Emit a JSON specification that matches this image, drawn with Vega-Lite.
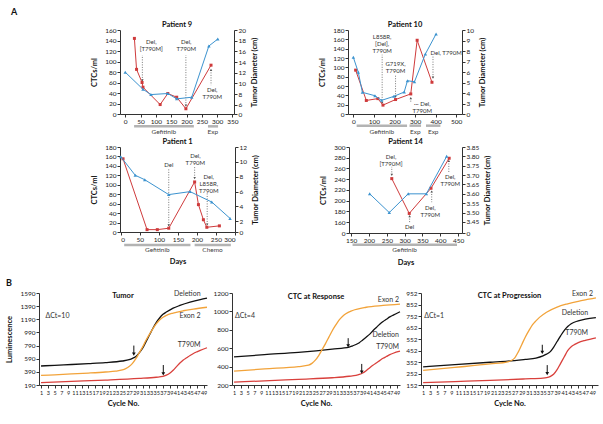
{
"$schema": "https://vega.github.io/schema/vega-lite/v6.json",
"padding": {"left": 5, "top": 7, "right": 0, "bottom": 0},
"config": {
  "font": "Lato",
  "view": {"stroke": null},
  "axis": {"labelFont": "Lato", "labelFontSize": 6.5, "titleFont": "Lato", "titleFontSize": 7.5, "titleFontWeight": "bold", "tickSize": 3, "domainColor": "#333", "tickColor": "#333", "labelColor": "#222", "titleColor": "#111", "grid": false, "labelPadding": 1, "titlePadding": 3},
  "axisLeft": {"titlePadding": 6},
  "axisRight": {"titleAngle": 270, "titleBaseline": "top", "titlePadding": 5},
  "title": {"font": "Lato", "fontSize": 7.5, "fontWeight": "bold", "offset": 0, "dy": 5, "color": "#111"},
  "text": {"font": "Lato"}
},
"datasets": {
  "pa": [
    {"p":"P9","s":"c","d":30,"v":144},{"p":"P9","s":"c","d":37,"v":85},{"p":"P9","s":"c","d":55,"v":60},{"p":"P9","s":"c","d":58,"v":51},{"p":"P9","s":"c","d":114,"v":18},{"p":"P9","s":"c","d":139,"v":39},{"p":"P9","s":"c","d":168,"v":32},{"p":"P9","s":"c","d":198,"v":10},{"p":"P9","s":"c","d":280,"v":93},
    {"p":"P9","s":"t","d":0,"v":12.1},{"p":"P9","s":"t","d":58,"v":8.9},{"p":"P9","s":"t","d":84,"v":7.9},{"p":"P9","s":"t","d":139,"v":8.1},{"p":"P9","s":"t","d":168,"v":7.1},{"p":"P9","s":"t","d":217,"v":7.4},{"p":"P9","s":"t","d":273,"v":17.0},{"p":"P9","s":"t","d":302,"v":18.3},
    {"p":"P10","s":"c","d":11,"v":94},{"p":"P10","s":"c","d":63,"v":29},{"p":"P10","s":"c","d":119,"v":33},{"p":"P10","s":"c","d":144,"v":19},{"p":"P10","s":"c","d":205,"v":31},{"p":"P10","s":"c","d":279,"v":43},{"p":"P10","s":"c","d":310,"v":158},{"p":"P10","s":"c","d":382,"v":68},
    {"p":"P10","s":"t","d":0,"v":7.41},{"p":"P10","s":"t","d":24,"v":6.0},{"p":"P10","s":"t","d":44,"v":4.1},{"p":"P10","s":"t","d":105,"v":3.78},{"p":"P10","s":"t","d":137,"v":3.34},{"p":"P10","s":"t","d":197,"v":3.72},{"p":"P10","s":"t","d":247,"v":4.13},{"p":"P10","s":"t","d":263,"v":5.2},{"p":"P10","s":"t","d":297,"v":5.1},{"p":"P10","s":"t","d":350,"v":7.73},{"p":"P10","s":"t","d":402,"v":9.62},
    {"p":"P1","s":"c","d":6,"v":155},{"p":"P1","s":"c","d":69,"v":5},{"p":"P1","s":"c","d":96,"v":5},{"p":"P1","s":"c","d":126,"v":8},{"p":"P1","s":"c","d":194,"v":106},{"p":"P1","s":"c","d":204,"v":58},{"p":"P1","s":"c","d":217,"v":26},{"p":"P1","s":"c","d":226,"v":10},{"p":"P1","s":"c","d":259,"v":13},
    {"p":"P1","s":"t","d":0,"v":10.7},{"p":"P1","s":"t","d":38,"v":8.2},{"p":"P1","s":"t","d":63,"v":7.6},{"p":"P1","s":"t","d":126,"v":5.6},{"p":"P1","s":"t","d":182,"v":6.0},{"p":"P1","s":"t","d":239,"v":4.6},{"p":"P1","s":"t","d":287,"v":2.4},
    {"p":"P14","s":"c","d":264,"v":241},{"p":"P14","s":"c","d":313,"v":176},{"p":"P14","s":"c","d":374,"v":223},{"p":"P14","s":"c","d":425,"v":279},
    {"p":"P14","s":"t","d":202,"v":3.60},{"p":"P14","s":"t","d":257,"v":3.50},{"p":"P14","s":"t","d":310,"v":3.60},{"p":"P14","s":"t","d":361,"v":3.60},{"p":"P14","s":"t","d":418,"v":3.80}
  ],
  "ann": [
    {"p":"P9","d":85,"v":143,"t":"Del,\n[T790M]"},{"p":"P9","d":199,"v":143,"t":"Del,\nT790M"},{"p":"P9","d":284,"v":52,"t":"Del,\nT790M"},
    {"p":"P10","d":140,"v":172,"t":"L858R,\n[Del],\nT790M"},{"p":"P10","d":205,"v":114,"t":"G719X,\nT790M"},{"p":"P10","d":451,"v":138,"t":"Del, T790M"},{"p":"P10","d":335,"v":28,"t":"··· Del,\nT790M"},
    {"p":"P1","d":126,"v":149,"t":"Del"},{"p":"P1","d":196,"v":168,"t":"Del,\nT790M"},{"p":"P1","d":231,"v":122,"t":"Del,\nL858R,\nT790M"},
    {"p":"P14","d":262,"v":287,"t":"Del,\n[T790M]"},{"p":"P14","d":314,"v":156,"t":"Del"},{"p":"P14","d":428,"v":249,"t":"Del,\nT790M"},{"p":"P14","d":372,"v":191,"t":"Del,\nT790M"}
  ],
  "arr": [
    {"p":"P9","d":56,"v":64,"v2":112,"dir":"down"},{"p":"P9","d":198,"v":16,"v2":112,"dir":"down"},{"p":"P9","d":280,"v":84,"v2":55,"dir":"up"},
    {"p":"P10","d":140,"v":24,"v2":127,"dir":"down"},{"p":"P10","d":205,"v":37,"v2":84,"dir":"down"},{"p":"P10","d":387,"v":78,"v2":123,"dir":"down"},{"p":"P10","d":279,"v":34,"v2":24,"dir":"up"},
    {"p":"P1","d":126,"v":14,"v2":133,"dir":"down"},{"p":"P1","d":194,"v":114,"v2":138,"dir":"down"},{"p":"P1","d":227,"v":16,"v2":84,"dir":"down"},
    {"p":"P14","d":264,"v":248,"v2":263,"dir":"down"},{"p":"P14","d":314,"v":171,"v2":159,"dir":"up"},{"p":"P14","d":424,"v":274,"v2":252,"dir":"up"},{"p":"P14","d":376,"v":217,"v2":197,"dir":"up"}
  ],
  "tx": [
    {"p":"P9","d":29,"d2":224},{"p":"P9","d":270,"d2":303},
    {"p":"P10","d":16,"d2":261},{"p":"P10","d":273,"d2":329},{"p":"P10","d":353,"d2":423},
    {"p":"P1","d":9,"d2":183},{"p":"P1","d":194,"d2":289},
    {"p":"P14","d":154,"d2":447}
  ],
  "txl": [
    {"p":"P9","d":126,"t":"Gefitinib"},{"p":"P9","d":286,"t":"Exp"},
    {"p":"P10","d":138,"t":"Gefitinib"},{"p":"P10","d":301,"t":"Exp"},{"p":"P10","d":388,"t":"Exp"},
    {"p":"P1","d":96,"t":"Gefitinib"},{"p":"P1","d":241,"t":"Chemo"},
    {"p":"P14","d":300,"t":"Gefitinib"}
  ],
  "b": [
    {"panel":"T","s":"del","c":1,"v":479},{"panel":"T","s":"del","c":5,"v":490},{"panel":"T","s":"del","c":10,"v":502},{"panel":"T","s":"del","c":15,"v":515},{"panel":"T","s":"del","c":20,"v":530},{"panel":"T","s":"del","c":25,"v":555},{"panel":"T","s":"del","c":27,"v":575},{"panel":"T","s":"del","c":28,"v":595},{"panel":"T","s":"del","c":29,"v":625},{"panel":"T","s":"del","c":30,"v":680},{"panel":"T","s":"del","c":31,"v":750},{"panel":"T","s":"del","c":32,"v":850},{"panel":"T","s":"del","c":33,"v":950},{"panel":"T","s":"del","c":34,"v":1050},{"panel":"T","s":"del","c":35,"v":1140},{"panel":"T","s":"del","c":36,"v":1210},{"panel":"T","s":"del","c":37,"v":1265},{"panel":"T","s":"del","c":38,"v":1300},{"panel":"T","s":"del","c":40,"v":1360},{"panel":"T","s":"del","c":42,"v":1400},{"panel":"T","s":"del","c":45,"v":1450},{"panel":"T","s":"del","c":48,"v":1490},{"panel":"T","s":"del","c":50,"v":1512},
    {"panel":"T","s":"ex","c":1,"v":335},{"panel":"T","s":"ex","c":5,"v":345},{"panel":"T","s":"ex","c":10,"v":358},{"panel":"T","s":"ex","c":15,"v":372},{"panel":"T","s":"ex","c":20,"v":388},{"panel":"T","s":"ex","c":23,"v":400},{"panel":"T","s":"ex","c":25,"v":420},{"panel":"T","s":"ex","c":26,"v":440},{"panel":"T","s":"ex","c":27,"v":470},{"panel":"T","s":"ex","c":28,"v":520},{"panel":"T","s":"ex","c":29,"v":590},{"panel":"T","s":"ex","c":30,"v":680},{"panel":"T","s":"ex","c":31,"v":770},{"panel":"T","s":"ex","c":32,"v":870},{"panel":"T","s":"ex","c":33,"v":960},{"panel":"T","s":"ex","c":34,"v":1045},{"panel":"T","s":"ex","c":35,"v":1120},{"panel":"T","s":"ex","c":36,"v":1180},{"panel":"T","s":"ex","c":37,"v":1220},{"panel":"T","s":"ex","c":38,"v":1250},{"panel":"T","s":"ex","c":40,"v":1285},{"panel":"T","s":"ex","c":43,"v":1320},{"panel":"T","s":"ex","c":46,"v":1345},{"panel":"T","s":"ex","c":50,"v":1373},
    {"panel":"T","s":"t790","c":1,"v":226},{"panel":"T","s":"t790","c":10,"v":245},{"panel":"T","s":"t790","c":20,"v":265},{"panel":"T","s":"t790","c":30,"v":290},{"panel":"T","s":"t790","c":35,"v":308},{"panel":"T","s":"t790","c":37,"v":320},{"panel":"T","s":"t790","c":38,"v":340},{"panel":"T","s":"t790","c":39,"v":370},{"panel":"T","s":"t790","c":40,"v":415},{"panel":"T","s":"t790","c":41,"v":470},{"panel":"T","s":"t790","c":42,"v":525},{"panel":"T","s":"t790","c":43,"v":570},{"panel":"T","s":"t790","c":44,"v":605},{"panel":"T","s":"t790","c":45,"v":640},{"panel":"T","s":"t790","c":46,"v":670},{"panel":"T","s":"t790","c":47,"v":695},{"panel":"T","s":"t790","c":48,"v":718},{"panel":"T","s":"t790","c":50,"v":757},
    {"panel":"R","s":"del","c":1,"v":505},{"panel":"R","s":"del","c":10,"v":530},{"panel":"R","s":"del","c":20,"v":555},{"panel":"R","s":"del","c":30,"v":590},{"panel":"R","s":"del","c":35,"v":612},{"panel":"R","s":"del","c":36,"v":625},{"panel":"R","s":"del","c":37,"v":640},{"panel":"R","s":"del","c":38,"v":660},{"panel":"R","s":"del","c":39,"v":690},{"panel":"R","s":"del","c":40,"v":720},{"panel":"R","s":"del","c":41,"v":750},{"panel":"R","s":"del","c":42,"v":790},{"panel":"R","s":"del","c":43,"v":825},{"panel":"R","s":"del","c":44,"v":860},{"panel":"R","s":"del","c":45,"v":890},{"panel":"R","s":"del","c":46,"v":915},{"panel":"R","s":"del","c":47,"v":940},{"panel":"R","s":"del","c":48,"v":960},{"panel":"R","s":"del","c":50,"v":996},
    {"panel":"R","s":"ex","c":1,"v":350},{"panel":"R","s":"ex","c":10,"v":375},{"panel":"R","s":"ex","c":20,"v":400},{"panel":"R","s":"ex","c":23,"v":415},{"panel":"R","s":"ex","c":24,"v":435},{"panel":"R","s":"ex","c":25,"v":470},{"panel":"R","s":"ex","c":26,"v":520},{"panel":"R","s":"ex","c":27,"v":585},{"panel":"R","s":"ex","c":28,"v":650},{"panel":"R","s":"ex","c":29,"v":720},{"panel":"R","s":"ex","c":30,"v":790},{"panel":"R","s":"ex","c":31,"v":850},{"panel":"R","s":"ex","c":32,"v":905},{"panel":"R","s":"ex","c":33,"v":945},{"panel":"R","s":"ex","c":34,"v":975},{"panel":"R","s":"ex","c":36,"v":1010},{"panel":"R","s":"ex","c":40,"v":1045},{"panel":"R","s":"ex","c":45,"v":1065},{"panel":"R","s":"ex","c":50,"v":1080},
    {"panel":"R","s":"t790","c":1,"v":232},{"panel":"R","s":"t790","c":10,"v":245},{"panel":"R","s":"t790","c":20,"v":262},{"panel":"R","s":"t790","c":30,"v":279},{"panel":"R","s":"t790","c":35,"v":295},{"panel":"R","s":"t790","c":37,"v":305},{"panel":"R","s":"t790","c":38,"v":315},{"panel":"R","s":"t790","c":39,"v":330},{"panel":"R","s":"t790","c":40,"v":355},{"panel":"R","s":"t790","c":41,"v":386},{"panel":"R","s":"t790","c":42,"v":415},{"panel":"R","s":"t790","c":43,"v":440},{"panel":"R","s":"t790","c":44,"v":465},{"panel":"R","s":"t790","c":45,"v":490},{"panel":"R","s":"t790","c":46,"v":510},{"panel":"R","s":"t790","c":47,"v":530},{"panel":"R","s":"t790","c":48,"v":545},{"panel":"R","s":"t790","c":50,"v":567},
    {"panel":"P","s":"del","c":1,"v":310},{"panel":"P","s":"del","c":10,"v":330},{"panel":"P","s":"del","c":20,"v":350},{"panel":"P","s":"del","c":25,"v":359},{"panel":"P","s":"del","c":30,"v":375},{"panel":"P","s":"del","c":33,"v":386},{"panel":"P","s":"del","c":35,"v":405},{"panel":"P","s":"del","c":36,"v":420},{"panel":"P","s":"del","c":37,"v":440},{"panel":"P","s":"del","c":38,"v":480},{"panel":"P","s":"del","c":39,"v":530},{"panel":"P","s":"del","c":40,"v":580},{"panel":"P","s":"del","c":41,"v":625},{"panel":"P","s":"del","c":42,"v":660},{"panel":"P","s":"del","c":43,"v":685},{"panel":"P","s":"del","c":45,"v":710},{"panel":"P","s":"del","c":47,"v":725},{"panel":"P","s":"del","c":50,"v":738},
    {"panel":"P","s":"ex","c":1,"v":279},{"panel":"P","s":"ex","c":10,"v":305},{"panel":"P","s":"ex","c":20,"v":335},{"panel":"P","s":"ex","c":25,"v":353},{"panel":"P","s":"ex","c":26,"v":365},{"panel":"P","s":"ex","c":27,"v":388},{"panel":"P","s":"ex","c":28,"v":440},{"panel":"P","s":"ex","c":29,"v":505},{"panel":"P","s":"ex","c":30,"v":570},{"panel":"P","s":"ex","c":31,"v":625},{"panel":"P","s":"ex","c":32,"v":675},{"panel":"P","s":"ex","c":33,"v":710},{"panel":"P","s":"ex","c":34,"v":740},{"panel":"P","s":"ex","c":36,"v":785},{"panel":"P","s":"ex","c":39,"v":830},{"panel":"P","s":"ex","c":42,"v":858},{"panel":"P","s":"ex","c":45,"v":880},{"panel":"P","s":"ex","c":48,"v":898},{"panel":"P","s":"ex","c":50,"v":910},
    {"panel":"P","s":"t790","c":1,"v":173},{"panel":"P","s":"t790","c":10,"v":182},{"panel":"P","s":"t790","c":20,"v":192},{"panel":"P","s":"t790","c":30,"v":205},{"panel":"P","s":"t790","c":35,"v":212},{"panel":"P","s":"t790","c":36,"v":216},{"panel":"P","s":"t790","c":37,"v":225},{"panel":"P","s":"t790","c":38,"v":245},{"panel":"P","s":"t790","c":39,"v":285},{"panel":"P","s":"t790","c":40,"v":340},{"panel":"P","s":"t790","c":41,"v":395},{"panel":"P","s":"t790","c":42,"v":450},{"panel":"P","s":"t790","c":43,"v":485},{"panel":"P","s":"t790","c":44,"v":505},{"panel":"P","s":"t790","c":45,"v":520},{"panel":"P","s":"t790","c":47,"v":540},{"panel":"P","s":"t790","c":50,"v":562}
  ],
  "bl": [
    {"panel":"T","k":"c","c":48.1,"v":1575,"t":"Deletion"},{"panel":"T","k":"c","c":48.1,"v":1236,"t":"Exon 2"},{"panel":"T","k":"c","c":48.1,"v":792,"t":"T790M"},{"panel":"T","k":"d","c":2.3,"v":1247,"t":"ΔCt=10"},
    {"panel":"R","k":"c","c":49.7,"v":1128,"t":"Exon 2"},{"panel":"R","k":"c","c":49.7,"v":745,"t":"Deletion"},{"panel":"R","k":"c","c":49.7,"v":612,"t":"T790M"},{"panel":"R","k":"d","c":1.3,"v":953,"t":"ΔCt=4"},
    {"panel":"P","k":"c","c":49.2,"v":946,"t":"Exon 2"},{"panel":"P","k":"c","c":47.8,"v":774,"t":"Deletion"},{"panel":"P","k":"c","c":47.8,"v":602,"t":"T790M"},{"panel":"P","k":"d","c":1.3,"v":754,"t":"ΔCt=1"}
  ],
  "ba": [
    {"panel":"T","c":28.4,"v":660,"v2":790},{"panel":"T","c":37.1,"v":360,"v2":494},
    {"panel":"R","c":34.7,"v":625,"v2":709},{"panel":"R","c":38.7,"v":340,"v2":429},
    {"panel":"P","c":34.8,"v":435,"v2":502},{"panel":"P","c":36.2,"v":250,"v2":325}
  ]
},
"spacing": 12,
"vconcat": [
{
  "title": {"text": "A", "anchor": "start", "frame": "bounds", "fontSize": 9, "offset": 4, "dx": -28, "dy": 0},
  "spacing": 0,
  "hconcat": [
    {"width": 51, "height": 10, "data": {"values": [{}]}, "mark": {"type": "text"}, "encoding": {"text": {"value": ""}}},
    {
      "spacing": 1,
      "vconcat": [
        {"spacing": 59, "hconcat": [
          {
            "title": "Patient 9", "width": 114, "height": 84,
            "encoding": {"x": {"field": "d", "type": "quantitative", "scale": {"domain": [-17, 355], "nice": false, "zero": false}, "axis": {"values": [0,50,100,150,200,250,300,350], "title": null}}},
            "layer": [
              {"encoding": {"y": {"field": "v", "type": "quantitative", "scale": {"domain": [0,160], "nice": false, "zero": false}, "axis": {"values": [0,20,40,60,80,100,120,140,160], "title": "CTCs/ml"}}},
               "layer": [
                {"data": {"name": "arr"}, "transform": [{"filter": "datum.p=='P9'"}], "mark": {"type": "rule", "strokeDash": [1, 1.5], "color": "#555", "strokeWidth": 0.8}, "encoding": {"y2": {"field": "v2"}}},
                {"data": {"name": "arr"}, "transform": [{"filter": "datum.p=='P9'"}], "mark": {"type": "point", "filled": true, "size": 6, "color": "#555", "opacity": 1}, "encoding": {"shape": {"field": "dir", "scale": {"domain": ["down","up"], "range": ["triangle-down","triangle-up"]}, "legend": null}}},
                {"data": {"name": "ann"}, "transform": [{"filter": "datum.p=='P9'"}], "mark": {"type": "text", "baseline": "top", "lineBreak": "\n", "fontSize": 6, "lineHeight": 7, "color": "#333"}, "encoding": {"text": {"field": "t"}}},
                {"data": {"name": "pa"}, "transform": [{"filter": "datum.p=='P9' && datum.s=='c'"}], "mark": {"type": "line", "color": "#cf3b3c", "strokeWidth": 1}},
                {"data": {"name": "pa"}, "transform": [{"filter": "datum.p=='P9' && datum.s=='c'"}], "mark": {"type": "point", "shape": "square", "filled": true, "size": 9, "color": "#cf3b3c", "opacity": 1}}
               ]},
              {"encoding": {"y": {"field": "v", "type": "quantitative", "scale": {"domain": [4.26, 20], "nice": false, "zero": false}, "axis": {"orient": "right", "values": [4.26,6,8,10,12,14,16,18,20], "labelExpr": "datum.value < 5 ? '0' : datum.label", "title": "Tumor Diameter (cm)"}}},
               "layer": [
                {"data": {"name": "pa"}, "transform": [{"filter": "datum.p=='P9' && datum.s=='t'"}], "mark": {"type": "line", "color": "#3c93cf", "strokeWidth": 1}},
                {"data": {"name": "pa"}, "transform": [{"filter": "datum.p=='P9' && datum.s=='t'"}], "mark": {"type": "point", "shape": "triangle-up", "filled": true, "size": 12, "color": "#3c93cf", "opacity": 1}}
               ]},
              {"layer": [
                {"data": {"name": "tx"}, "transform": [{"filter": "datum.p=='P9'"}], "mark": {"type": "rule", "strokeWidth": 2.5, "color": "#b3b3b3"}, "encoding": {"x2": {"field": "d2"}, "y": {"datum": -23.5, "type": "quantitative", "scale": {"domain": [0,160], "nice": false, "zero": false}, "axis": null}}},
                {"data": {"name": "txl"}, "transform": [{"filter": "datum.p=='P9'"}], "mark": {"type": "text", "fontSize": 6.5, "color": "#444"}, "encoding": {"text": {"field": "t"}, "y": {"datum": -35, "type": "quantitative", "scale": {"domain": [0,160], "nice": false, "zero": false}, "axis": null}}}
              ]}
            ],
            "resolve": {"scale": {"y": "independent"}}
          },
          {
            "title": "Patient 10", "width": 114, "height": 84,
            "encoding": {"x": {"field": "d", "type": "quantitative", "scale": {"domain": [-26, 528], "nice": false, "zero": false}, "axis": {"values": [0,100,200,300,400,500], "title": null}}},
            "layer": [
              {"encoding": {"y": {"field": "v", "type": "quantitative", "scale": {"domain": [0,180], "nice": false, "zero": false}, "axis": {"values": [0,20,40,60,80,100,120,140,160,180], "title": "CTCs/ml"}}},
               "layer": [
                {"data": {"name": "arr"}, "transform": [{"filter": "datum.p=='P10'"}], "mark": {"type": "rule", "strokeDash": [1, 1.5], "color": "#555", "strokeWidth": 0.8}, "encoding": {"y2": {"field": "v2"}}},
                {"data": {"name": "arr"}, "transform": [{"filter": "datum.p=='P10'"}], "mark": {"type": "point", "filled": true, "size": 6, "color": "#555", "opacity": 1}, "encoding": {"shape": {"field": "dir", "scale": {"domain": ["down","up"], "range": ["triangle-down","triangle-up"]}, "legend": null}}},
                {"data": {"name": "ann"}, "transform": [{"filter": "datum.p=='P10'"}], "mark": {"type": "text", "baseline": "top", "lineBreak": "\n", "fontSize": 6, "lineHeight": 7, "color": "#333"}, "encoding": {"text": {"field": "t"}}},
                {"data": {"name": "pa"}, "transform": [{"filter": "datum.p=='P10' && datum.s=='c'"}], "mark": {"type": "line", "color": "#cf3b3c", "strokeWidth": 1}},
                {"data": {"name": "pa"}, "transform": [{"filter": "datum.p=='P10' && datum.s=='c'"}], "mark": {"type": "point", "shape": "square", "filled": true, "size": 9, "color": "#cf3b3c", "opacity": 1}}
               ]},
              {"encoding": {"y": {"field": "v", "type": "quantitative", "scale": {"domain": [2.05, 10], "nice": false, "zero": false}, "axis": {"orient": "right", "values": [2.05,3,4,5,6,7,8,9,10], "labelExpr": "datum.value < 2.5 ? '0' : datum.label", "title": "Tumor Diameter (cm)"}}},
               "layer": [
                {"data": {"name": "pa"}, "transform": [{"filter": "datum.p=='P10' && datum.s=='t'"}], "mark": {"type": "line", "color": "#3c93cf", "strokeWidth": 1}},
                {"data": {"name": "pa"}, "transform": [{"filter": "datum.p=='P10' && datum.s=='t'"}], "mark": {"type": "point", "shape": "triangle-up", "filled": true, "size": 12, "color": "#3c93cf", "opacity": 1}}
               ]},
              {"layer": [
                {"data": {"name": "tx"}, "transform": [{"filter": "datum.p=='P10'"}], "mark": {"type": "rule", "strokeWidth": 2.5, "color": "#b3b3b3"}, "encoding": {"x2": {"field": "d2"}, "y": {"datum": -25, "type": "quantitative", "scale": {"domain": [0,180], "nice": false, "zero": false}, "axis": null}}},
                {"data": {"name": "txl"}, "transform": [{"filter": "datum.p=='P10'"}], "mark": {"type": "text", "fontSize": 6.5, "color": "#444"}, "encoding": {"text": {"field": "t"}, "y": {"datum": -39, "type": "quantitative", "scale": {"domain": [0,180], "nice": false, "zero": false}, "axis": null}}}
              ]}
            ],
            "resolve": {"scale": {"y": "independent"}}
          }
        ]},
        {"spacing": 59, "hconcat": [
          {
            "title": "Patient 1", "width": 115, "height": 85,
            "encoding": {"x": {"field": "d", "type": "quantitative", "scale": {"domain": [-2, 300], "nice": false, "zero": false}, "axis": {"values": [0,50,100,150,200,250,300], "title": "Days", "titlePadding": 15}}},
            "layer": [
              {"encoding": {"y": {"field": "v", "type": "quantitative", "scale": {"domain": [0,180], "nice": false, "zero": false}, "axis": {"values": [0,20,40,60,80,100,120,140,160,180], "title": "CTCs/ml"}}},
               "layer": [
                {"data": {"name": "arr"}, "transform": [{"filter": "datum.p=='P1'"}], "mark": {"type": "rule", "strokeDash": [1, 1.5], "color": "#555", "strokeWidth": 0.8}, "encoding": {"y2": {"field": "v2"}}},
                {"data": {"name": "arr"}, "transform": [{"filter": "datum.p=='P1'"}], "mark": {"type": "point", "filled": true, "size": 6, "color": "#555", "opacity": 1}, "encoding": {"shape": {"field": "dir", "scale": {"domain": ["down","up"], "range": ["triangle-down","triangle-up"]}, "legend": null}}},
                {"data": {"name": "ann"}, "transform": [{"filter": "datum.p=='P1'"}], "mark": {"type": "text", "baseline": "top", "lineBreak": "\n", "fontSize": 6, "lineHeight": 7, "color": "#333"}, "encoding": {"text": {"field": "t"}}},
                {"data": {"name": "pa"}, "transform": [{"filter": "datum.p=='P1' && datum.s=='c'"}], "mark": {"type": "line", "color": "#cf3b3c", "strokeWidth": 1}},
                {"data": {"name": "pa"}, "transform": [{"filter": "datum.p=='P1' && datum.s=='c'"}], "mark": {"type": "point", "shape": "square", "filled": true, "size": 9, "color": "#cf3b3c", "opacity": 1}}
               ]},
              {"encoding": {"y": {"field": "v", "type": "quantitative", "scale": {"domain": [0.57, 12], "nice": false, "zero": false}, "axis": {"orient": "right", "values": [0.57,2,4,6,8,10,12], "labelExpr": "datum.value < 1 ? '0' : datum.label", "title": "Tumor Diameter (cm)"}}},
               "layer": [
                {"data": {"name": "pa"}, "transform": [{"filter": "datum.p=='P1' && datum.s=='t'"}], "mark": {"type": "line", "color": "#3c93cf", "strokeWidth": 1}},
                {"data": {"name": "pa"}, "transform": [{"filter": "datum.p=='P1' && datum.s=='t'"}], "mark": {"type": "point", "shape": "triangle-up", "filled": true, "size": 12, "color": "#3c93cf", "opacity": 1}}
               ]},
              {"layer": [
                {"data": {"name": "tx"}, "transform": [{"filter": "datum.p=='P1'"}], "mark": {"type": "rule", "strokeWidth": 2.5, "color": "#b3b3b3"}, "encoding": {"x2": {"field": "d2"}, "y": {"datum": -27.7, "type": "quantitative", "scale": {"domain": [0,180], "nice": false, "zero": false}, "axis": null}}},
                {"data": {"name": "txl"}, "transform": [{"filter": "datum.p=='P1'"}], "mark": {"type": "text", "fontSize": 6.5, "color": "#444"}, "encoding": {"text": {"field": "t"}, "y": {"datum": -39, "type": "quantitative", "scale": {"domain": [0,180], "nice": false, "zero": false}, "axis": null}}}
              ]}
            ],
            "resolve": {"scale": {"y": "independent"}}
          },
          {
            "title": "Patient 14", "width": 113, "height": 86,
            "encoding": {"x": {"field": "d", "type": "quantitative", "scale": {"domain": [144, 461], "nice": false, "zero": false}, "axis": {"values": [150,200,250,300,350,400,450], "title": "Days", "titlePadding": 15}}},
            "layer": [
              {"encoding": {"y": {"field": "v", "type": "quantitative", "scale": {"domain": [139.5,300], "nice": false, "zero": false}, "axis": {"values": [139.5,160,180,200,220,240,260,280,300], "labelExpr": "datum.value < 150 ? '0' : datum.label", "title": "CTCs/ml"}}},
               "layer": [
                {"data": {"name": "arr"}, "transform": [{"filter": "datum.p=='P14'"}], "mark": {"type": "rule", "strokeDash": [1, 1.5], "color": "#555", "strokeWidth": 0.8}, "encoding": {"y2": {"field": "v2"}}},
                {"data": {"name": "arr"}, "transform": [{"filter": "datum.p=='P14'"}], "mark": {"type": "point", "filled": true, "size": 6, "color": "#555", "opacity": 1}, "encoding": {"shape": {"field": "dir", "scale": {"domain": ["down","up"], "range": ["triangle-down","triangle-up"]}, "legend": null}}},
                {"data": {"name": "ann"}, "transform": [{"filter": "datum.p=='P14'"}], "mark": {"type": "text", "baseline": "top", "lineBreak": "\n", "fontSize": 6, "lineHeight": 7, "color": "#333"}, "encoding": {"text": {"field": "t"}}},
                {"data": {"name": "pa"}, "transform": [{"filter": "datum.p=='P14' && datum.s=='c'"}], "mark": {"type": "line", "color": "#cf3b3c", "strokeWidth": 1}},
                {"data": {"name": "pa"}, "transform": [{"filter": "datum.p=='P14' && datum.s=='c'"}], "mark": {"type": "point", "shape": "square", "filled": true, "size": 9, "color": "#cf3b3c", "opacity": 1}}
               ]},
              {"encoding": {"y": {"field": "v", "type": "quantitative", "scale": {"domain": [3.391, 3.85], "nice": false, "zero": false}, "axis": {"orient": "right", "values": [3.391,3.45,3.5,3.55,3.6,3.65,3.7,3.75,3.8,3.85], "format": ".2f", "labelExpr": "datum.value < 3.42 ? '0' : datum.label", "title": "Tumor Diameter (cm)"}}},
               "layer": [
                {"data": {"name": "pa"}, "transform": [{"filter": "datum.p=='P14' && datum.s=='t'"}], "mark": {"type": "line", "color": "#3c93cf", "strokeWidth": 1}},
                {"data": {"name": "pa"}, "transform": [{"filter": "datum.p=='P14' && datum.s=='t'"}], "mark": {"type": "point", "shape": "triangle-up", "filled": true, "size": 12, "color": "#3c93cf", "opacity": 1}}
               ]},
              {"layer": [
                {"data": {"name": "tx"}, "transform": [{"filter": "datum.p=='P14'"}], "mark": {"type": "rule", "strokeWidth": 2.5, "color": "#b3b3b3"}, "encoding": {"x2": {"field": "d2"}, "y": {"datum": 117.7, "type": "quantitative", "scale": {"domain": [139.5,300], "nice": false, "zero": false}, "axis": null}}},
                {"data": {"name": "txl"}, "transform": [{"filter": "datum.p=='P14'"}], "mark": {"type": "text", "fontSize": 6.5, "color": "#444"}, "encoding": {"text": {"field": "t"}, "y": {"datum": 107.8, "type": "quantitative", "scale": {"domain": [139.5,300], "nice": false, "zero": false}, "axis": null}}}
              ]}
            ],
            "resolve": {"scale": {"y": "independent"}}
          }
        ]}
      ]
    }
  ]
},
{
  "title": {"text": "B", "anchor": "start", "frame": "bounds", "fontSize": 9, "offset": 2, "dy": 0},
  "spacing": 2,
  "hconcat": [
    {
      "title": {"text": "Tumor", "offset": 0, "dy": 10},
      "width": 168, "height": 92,
      "encoding": {
        "x": {"field": "c", "type": "quantitative", "scale": {"domain": [0.4, 50], "nice": false, "zero": false}, "axis": {"values": [1,3,5,7,9,11,13,15,17,19,21,23,25,27,29,31,33,35,37,39,41,43,45,47,49], "title": "Cycle No.", "labelFontSize": 5.5, "labelOverlap": false, "labelFlush": false, "labelPadding": 2, "titlePadding": 4}},
        "y": {"field": "v", "type": "quantitative", "scale": {"domain": [190,1590], "nice": false, "zero": false}, "axis": {"values": [190,390,590,790,990,1190,1390,1590], "format": "d", "title": "Luminescence"}}
      },
      "layer": [
        {"data": {"name": "b"}, "transform": [{"filter": "datum.panel=='T'"}], "mark": {"type": "line", "interpolate": "monotone", "strokeWidth": 1.3}, "encoding": {"color": {"field": "s", "scale": {"domain": ["del","ex","t790"], "range": ["#111111","#f2a33a","#d9403c"]}, "legend": null}}},
        {"data": {"name": "bl"}, "transform": [{"filter": "datum.panel=='T' && datum.k=='c'"}], "mark": {"type": "text", "align": "right", "fontSize": 7, "color": "#333"}, "encoding": {"text": {"field": "t"}}},
        {"data": {"name": "bl"}, "transform": [{"filter": "datum.panel=='T' && datum.k=='d'"}], "mark": {"type": "text", "align": "left", "fontSize": 7, "color": "#333"}, "encoding": {"text": {"field": "t"}}},
        {"data": {"name": "ba"}, "transform": [{"filter": "datum.panel=='T'"}], "mark": {"type": "rule", "color": "#111", "strokeWidth": 1}, "encoding": {"y2": {"field": "v2"}}},
        {"data": {"name": "ba"}, "transform": [{"filter": "datum.panel=='T'"}], "mark": {"type": "point", "shape": "triangle-down", "filled": true, "size": 14, "color": "#111", "opacity": 1}}
      ]
    },
    {
      "title": {"text": "CTC at Response", "offset": 0, "dy": 10},
      "width": 168, "height": 92,
      "encoding": {
        "x": {"field": "c", "type": "quantitative", "scale": {"domain": [0.4, 50], "nice": false, "zero": false}, "axis": {"values": [1,3,5,7,9,11,13,15,17,19,21,23,25,27,29,31,33,35,37,39,41,43,45,47,49], "title": "Cycle No.", "labelFontSize": 5.5, "labelOverlap": false, "labelFlush": false, "labelPadding": 2, "titlePadding": 4}},
        "y": {"field": "v", "type": "quantitative", "scale": {"domain": [200,1200], "nice": false, "zero": false}, "axis": {"values": [200,400,600,800,1000,1200], "format": "d", "title": null}}
      },
      "layer": [
        {"data": {"name": "b"}, "transform": [{"filter": "datum.panel=='R'"}], "mark": {"type": "line", "interpolate": "monotone", "strokeWidth": 1.3}, "encoding": {"color": {"field": "s", "scale": {"domain": ["del","ex","t790"], "range": ["#111111","#f2a33a","#d9403c"]}, "legend": null}}},
        {"data": {"name": "bl"}, "transform": [{"filter": "datum.panel=='R' && datum.k=='c'"}], "mark": {"type": "text", "align": "right", "fontSize": 7, "color": "#333"}, "encoding": {"text": {"field": "t"}}},
        {"data": {"name": "bl"}, "transform": [{"filter": "datum.panel=='R' && datum.k=='d'"}], "mark": {"type": "text", "align": "left", "fontSize": 7, "color": "#333"}, "encoding": {"text": {"field": "t"}}},
        {"data": {"name": "ba"}, "transform": [{"filter": "datum.panel=='R'"}], "mark": {"type": "rule", "color": "#111", "strokeWidth": 1}, "encoding": {"y2": {"field": "v2"}}},
        {"data": {"name": "ba"}, "transform": [{"filter": "datum.panel=='R'"}], "mark": {"type": "point", "shape": "triangle-down", "filled": true, "size": 14, "color": "#111", "opacity": 1}}
      ]
    },
    {
      "title": {"text": "CTC at Progression", "offset": 0, "dy": 10},
      "width": 177, "height": 92,
      "encoding": {
        "x": {"field": "c", "type": "quantitative", "scale": {"domain": [0.4, 50.6], "nice": false, "zero": false}, "axis": {"values": [1,3,5,7,9,11,13,15,17,19,21,23,25,27,29,31,33,35,37,39,41,43,45,47,49], "title": "Cycle No.", "labelFontSize": 5.5, "labelOverlap": false, "labelFlush": false, "labelPadding": 2, "titlePadding": 4}},
        "y": {"field": "v", "type": "quantitative", "scale": {"domain": [152,952], "nice": false, "zero": false}, "axis": {"values": [152,252,352,452,552,652,752,852,952], "format": "d", "title": null}}
      },
      "layer": [
        {"data": {"name": "b"}, "transform": [{"filter": "datum.panel=='P'"}], "mark": {"type": "line", "interpolate": "monotone", "strokeWidth": 1.3}, "encoding": {"color": {"field": "s", "scale": {"domain": ["del","ex","t790"], "range": ["#111111","#f2a33a","#d9403c"]}, "legend": null}}},
        {"data": {"name": "bl"}, "transform": [{"filter": "datum.panel=='P' && datum.k=='c'"}], "mark": {"type": "text", "align": "right", "fontSize": 7, "color": "#333"}, "encoding": {"text": {"field": "t"}}},
        {"data": {"name": "bl"}, "transform": [{"filter": "datum.panel=='P' && datum.k=='d'"}], "mark": {"type": "text", "align": "left", "fontSize": 7, "color": "#333"}, "encoding": {"text": {"field": "t"}}},
        {"data": {"name": "ba"}, "transform": [{"filter": "datum.panel=='P'"}], "mark": {"type": "rule", "color": "#111", "strokeWidth": 1}, "encoding": {"y2": {"field": "v2"}}},
        {"data": {"name": "ba"}, "transform": [{"filter": "datum.panel=='P'"}], "mark": {"type": "point", "shape": "triangle-down", "filled": true, "size": 14, "color": "#111", "opacity": 1}}
      ]
    }
  ]
}
]
}
